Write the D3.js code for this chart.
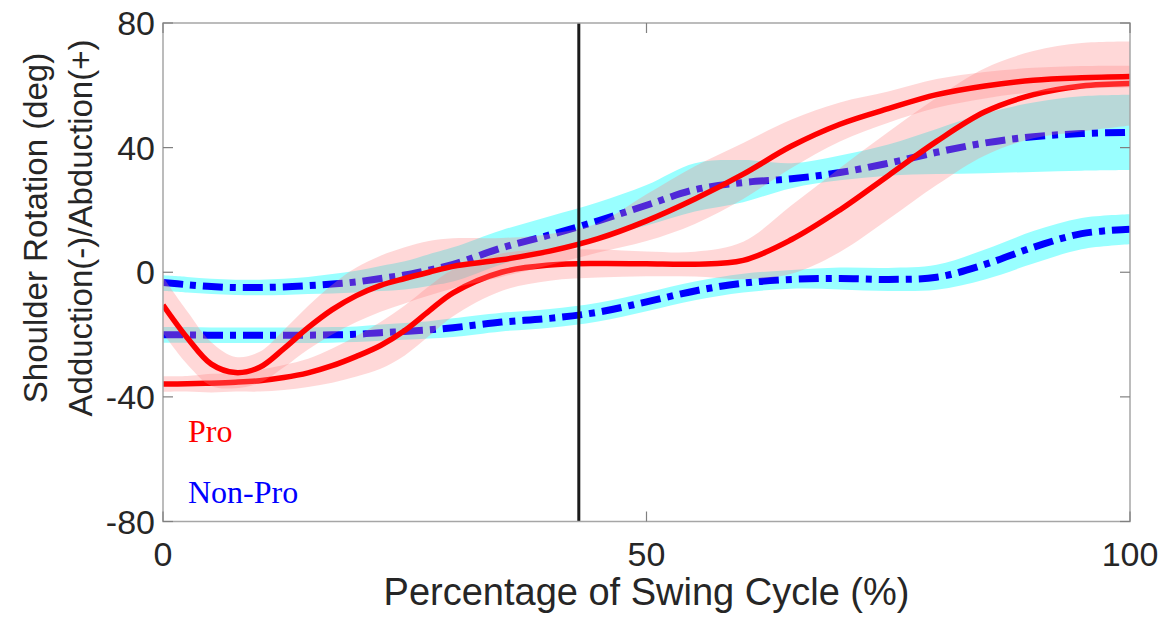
<!DOCTYPE html>
<html>
<head>
<meta charset="utf-8">
<script src="https://cdn.jsdelivr.net/npm/d3@7"></script>
<style>
    html, body { margin: 0; padding: 0; background: #ffffff; }
    svg { display: block; }
</style>
</head>
<body>
<div id="chart"></div>
<script>
(function () {
    "use strict";

    // percentage of swing cycle at which the curves were read
    const cycle = [0, 2.5, 5, 7.5, 10, 12.5, 15, 17.5, 20, 22.5, 25, 27.5, 30, 35, 40, 45, 50, 55, 60, 65, 70, 75, 80, 85, 90, 95, 100];

    // Pro, first curve (dips early)
    const proA = [-10.5, -21, -29.5, -32.2, -30.5, -24.5, -17.8, -12, -7.5, -4.2, -2, 0, 1.9, 4, 6.8, 10.8, 16.5, 23.5, 31.5, 40.5, 47.5, 52.5, 57, 59.8, 61.6, 62.4, 62.8];
    const proAHi = [-1.5, -12.5, -22.5, -27.2, -25.5, -18.5, -10.8, -4, 1.5, 5.3, 8, 10, 10.9, 11, 12.3, 15.8, 25, 34, 41.5, 49, 54.5, 58, 62, 64.3, 65.6, 66.2, 66.3];
    const proALo = [-19.5, -29.5, -36.5, -37.2, -35.5, -30.5, -24.8, -20, -16, -12.7, -10, -7.5, -5.1, -1.5, 2.3, 6.3, 10, 15.5, 23.5, 33.5, 42, 48, 52.8, 55.8, 57.8, 58.9, 59.3];

    // Pro, second curve (plateau then late rise)
    const proB = [-35.9, -35.8, -35.6, -35.3, -34.8, -33.8, -32.3, -30, -27, -23.5, -18.7, -12.5, -6.6, 0, 2.3, 2.8, 2.7, 2.6, 3.8, 10.5, 20, 31, 42, 51.5, 57, 59.8, 60.6];
    const proBHi = [-33.4, -33.3, -32.6, -32.3, -31.3, -29.8, -27.8, -24.5, -20.5, -16, -10.7, -4.5, 0.9, 6, 7.3, 7.3, 6.7, 6.6, 9.8, 21.5, 33.5, 45, 56, 65.5, 71, 73.6, 74.1];
    const proBLo = [-38.4, -38.3, -38.6, -38.3, -38.3, -37.8, -36.8, -35.5, -33.5, -31, -26.7, -20.5, -14.1, -6, -2.7, -1.7, -1.3, -1.4, -2.2, -0.5, 6.5, 17, 28, 37.5, 43, 45.2, 47.1];

    // Non-Pro, upper curve
    const nonProC = [-3.3, -4, -4.6, -4.9, -4.9, -4.7, -4.3, -3.8, -3.1, -2, -0.9, 0.7, 2.5, 7.8, 12, 16.5, 21.5, 26.5, 28.8, 30, 32, 35, 38.5, 41.5, 43.5, 44.5, 44.9];
    const nonProCHi = [-1, -1.5, -2.1, -2.4, -2.4, -2.1, -1.5, -0.6, 0.5, 2, 3.5, 5.8, 8, 13.5, 18, 22.5, 28, 35, 36, 35, 37.5, 41, 46, 51, 54.5, 56.5, 57];
    const nonProCLo = [-6, -6.5, -7, -7.3, -7.4, -7.3, -7, -6.8, -6.5, -6, -5.5, -4.4, -3, 2.5, 7, 11, 15, 19.5, 22.5, 27, 29.5, 31, 31.5, 31.8, 32.2, 32.6, 32.8];

    // Non-Pro, lower curve
    const nonProD = [-20.1, -20.1, -20.2, -20.2, -20.2, -20.2, -20.2, -20.1, -19.9, -19.4, -19, -18.5, -17.8, -16, -14.8, -12.8, -9.5, -6, -3.5, -2.3, -2, -2.3, -1.6, 2.5, 8, 12.4, 13.8];
    const nonProDHi = [-17.6, -17.6, -17.7, -17.7, -17.7, -17.7, -17.7, -17.6, -17.4, -16.8, -16.3, -15.7, -14.8, -13, -11.8, -9.8, -6.5, -3, -0.5, 0.7, 1.5, 1.4, 2.4, 7.3, 13.2, 17.4, 18.6];
    const nonProDLo = [-22.6, -22.6, -22.7, -22.7, -22.7, -22.7, -22.7, -22.6, -22.4, -22, -21.7, -21.3, -20.8, -19, -17.8, -15.8, -12.5, -9, -6.5, -5.3, -5.5, -6, -5.6, -2.3, 2.8, 7.4, 9];

    const eventMark = 43;
    const xTicks = [0, 50, 100];
    const yTicks = [-80, -40, 0, 40, 80];
    const groupNames = ["Pro", "Non-Pro"];

    const width = 1165;
    const height = 623;
    const margin = { top: 23, right: 35, bottom: 101.5, left: 163 };

    const svg = d3.select("#chart")
        .append("svg")
        .attr("width", width)
        .attr("height", height)
        .style("font-family", "'Liberation Sans', Arial, sans-serif");

    const x = d3.scaleLinear().domain([0, 100]).range([margin.left, width - margin.right]);
    const y = d3.scaleLinear().domain([-80, 80]).range([height - margin.bottom, margin.top]);

    const series = (mean, lo, hi) => cycle.map((c, i) => ({ c, m: mean[i], lo: lo[i], hi: hi[i] }));

    const curve = d3.curveCatmullRom.alpha(0.5);
    const band = d3.area()
        .curve(curve)
        .x((d) => x(d.c))
        .y0((d) => y(d.lo))
        .y1((d) => y(d.hi));
    const line = d3.line()
        .curve(curve)
        .x((d) => x(d.c))
        .y((d) => y(d.m));

    const plot = svg.append("g");
    plot.append("defs").append("clipPath").attr("id", "plotclip")
        .append("rect")
        .attr("x", x(0)).attr("y", y(80))
        .attr("width", x(100) - x(0)).attr("height", y(-80) - y(80));
    const inner = plot.append("g").attr("clip-path", "url(#plotclip)");

    const nonPro = [series(nonProC, nonProCLo, nonProCHi), series(nonProD, nonProDLo, nonProDHi)];
    const pro = [series(proB, proBLo, proBHi), series(proA, proALo, proAHi)];

    nonPro.forEach((s) => {
        inner.append("path").attr("d", band(s))
            .attr("fill", "#00ffff").attr("fill-opacity", 0.4);
    });
    nonPro.forEach((s) => {
        inner.append("path").attr("d", line(s))
            .attr("fill", "none").attr("stroke", "#0000ff")
            .attr("stroke-width", 7)
            .attr("stroke-dasharray", "20,7,6,7");
    });
    pro.forEach((s) => {
        inner.append("path").attr("d", band(s))
            .attr("fill", "rgb(255,128,128)").attr("fill-opacity", 0.31);
        inner.append("path").attr("d", line(s))
            .attr("fill", "none").attr("stroke", "#ff0000")
            .attr("stroke-width", 5.5);
    });

    inner.append("line")
        .attr("x1", x(eventMark)).attr("x2", x(eventMark))
        .attr("y1", y(80)).attr("y2", y(-80))
        .attr("stroke", "#1a1a1a").attr("stroke-width", 3);

    // axes box with inward ticks (MATLAB style)
    const axisColor = "#a6a6a6";
    const tickLen = 10;
    const frame = svg.append("g");
    frame.append("rect")
        .attr("x", x(0)).attr("y", y(80))
        .attr("width", x(100) - x(0)).attr("height", y(-80) - y(80))
        .attr("fill", "none").attr("stroke", axisColor).attr("stroke-width", 1.5);

    yTicks.forEach((t) => {
        frame.append("line").attr("x1", x(0)).attr("x2", x(0) + tickLen)
            .attr("y1", y(t)).attr("y2", y(t)).attr("stroke", "#808080").attr("stroke-width", 1.2);
        frame.append("line").attr("x1", x(100)).attr("x2", x(100) - tickLen)
            .attr("y1", y(t)).attr("y2", y(t)).attr("stroke", "#808080").attr("stroke-width", 1.2);
        frame.append("text")
            .attr("x", x(0) - 8).attr("y", y(t))
            .attr("dy", "0.36em")
            .attr("text-anchor", "end")
            .attr("fill", "#262626")
            .style("font-size", "34px")
            .text(t);
    });

    xTicks.forEach((t) => {
        frame.append("line").attr("x1", x(t)).attr("x2", x(t))
            .attr("y1", y(-80)).attr("y2", y(-80) - tickLen).attr("stroke", "#808080").attr("stroke-width", 1.2);
        frame.append("line").attr("x1", x(t)).attr("x2", x(t))
            .attr("y1", y(80)).attr("y2", y(80) + tickLen).attr("stroke", "#808080").attr("stroke-width", 1.2);
        frame.append("text")
            .attr("x", x(t)).attr("y", y(-80) + 44)
            .attr("text-anchor", "middle")
            .attr("fill", "#262626")
            .style("font-size", "34px")
            .text(t);
    });

    svg.append("text")
        .attr("x", (x(0) + x(100)) / 2).attr("y", 605)
        .attr("text-anchor", "middle")
        .attr("fill", "#262626")
        .style("font-size", "38px")
        .text("Percentage of Swing Cycle (%)");

    const ylab = svg.append("text")
        .attr("transform", "translate(0,228) rotate(-90)")
        .attr("text-anchor", "middle")
        .attr("fill", "#262626")
        .style("font-size", "33px");
    ylab.append("tspan").attr("x", 0).attr("y", 47).text("Shoulder Rotation (deg)");
    ylab.append("tspan").attr("x", 0).attr("y", 92).text("Adduction(-)/Abduction(+)");

    svg.append("text")
        .attr("x", 188).attr("y", 442)
        .attr("fill", "#ff0000")
        .style("font-family", "'Liberation Serif', 'Times New Roman', serif")
        .style("font-size", "32px")
        .text(groupNames[0]);
    svg.append("text")
        .attr("x", 188).attr("y", 503)
        .attr("fill", "#0000ff")
        .style("font-family", "'Liberation Serif', 'Times New Roman', serif")
        .style("font-size", "32px")
        .text(groupNames[1]);
})();
</script>
</body>
</html>
